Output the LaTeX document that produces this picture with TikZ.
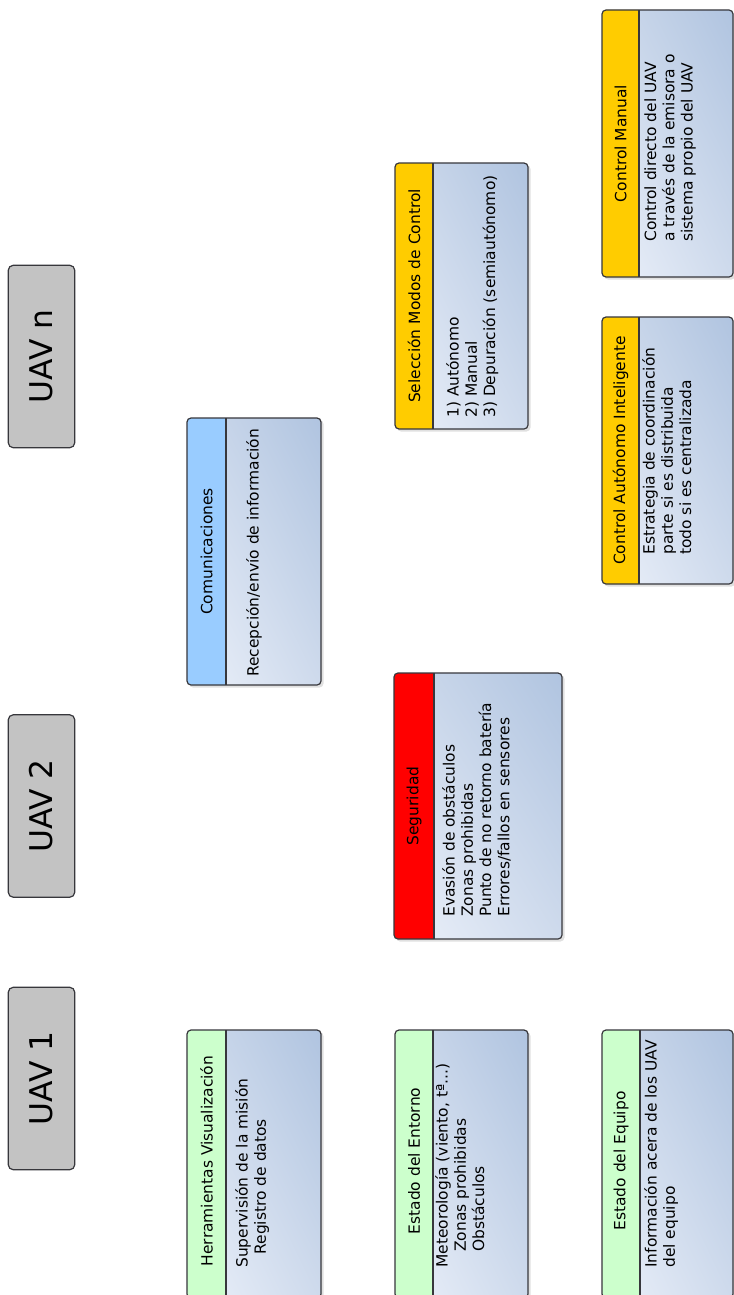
\documentclass[tikz,border=0pt]{standalone}
\usepackage{fontspec}
\setmainfont{DejaVu Sans}
\usetikzlibrary{shadings}
\definecolor{uavgray}{RGB}{195,195,195}
\definecolor{edgecol}{RGB}{55,55,60}
\definecolor{bodydark}{RGB}{176,196,224}
\definecolor{bodymid}{RGB}{206,218,236}
\definecolor{bodylight}{RGB}{236,241,250}
\definecolor{hgreen}{RGB}{204,255,204}
\definecolor{hblue}{RGB}{153,204,255}
\definecolor{hred}{RGB}{255,0,0}
\definecolor{hyellow}{RGB}{255,204,0}
\newcommand\headfont{\fontsize{11.6}{13.7}\selectfont}
\newcommand\bodyfont{\fontsize{11.6}{13.7}\selectfont}
\tikzset{
  edge/.style={draw=edgecol, line width=0.9pt},
  uavbox/.style={draw=edgecol, fill=uavgray, rounded corners=4pt, line width=0.9pt,
    rotate=90, minimum width=137pt, minimum height=50pt, inner sep=0pt,
    font=\fontsize{23.5}{28}\selectfont},
  headtext/.style={rotate=90, inner sep=0pt, font=\headfont},
  bodytext/.style={rotate=90, anchor=north west, inner sep=0pt, align=left, font=\bodyfont},
}
% #1 x1, #2 y1, #3 divider x, #4 x2, #5 y2, #6 header colour
\newcommand\mypanel[6]{%
  \fill[black, opacity=0.12, rounded corners=3pt] (#1+2,#2+2) rectangle (#4+2.5,#5+2.5);
  \shade[rounded corners=3pt, upper right=bodydark, lower left=bodylight,
         upper left=bodymid, lower right=bodymid] (#1,#2) rectangle (#4,#5);
  \begin{scope}
    \clip (#1-2,#2-2) rectangle (#3,#5+2);
    \fill[#6, rounded corners=3pt] (#1,#2) rectangle (#4,#5);
  \end{scope}
  \draw[edge, rounded corners=3pt] (#1,#2) rectangle (#4,#5);
  \draw[edge] (#3,#2) -- (#3,#5);
}
\begin{document}
\begin{tikzpicture}[x=0.75pt,y=-0.75pt]
\useasboundingbox (0,0) rectangle (733,1295);
\fill[white] (0,0) rectangle (733,1295);

% UAV boxes
\node[uavbox] (uav1) at (41.5,1078.5) {UAV 1};
\node[uavbox] (uav2) at (41.5,806) {UAV 2};
\node[uavbox] (uavn) at (41.5,356.5) {UAV n};

% Herramientas Visualizacion
\mypanel{187}{1030}{226}{321}{1298}{hgreen}
\node[headtext] (herrH) at (206.5,1161) {Herramientas Visualización};
\node[bodytext] (herrB) at (235,1268) {Supervisión de la misión\\\hspace*{10pt}Registro de datos};

% Estado del Entorno
\mypanel{395}{1030}{433}{528}{1298}{hgreen}
\node[headtext] (entH) at (414,1161) {Estado del Entorno};
\node[bodytext] (entB) at (435,1268) {Meteorología (viento, tª...)\\\hspace*{12pt}Zonas prohibidas\\\hspace*{12pt}Obstáculos};

% Estado del Equipo
\mypanel{602}{1030}{640}{733}{1298}{hgreen}
\node[headtext] (equH) at (621,1161) {Estado del Equipo};
\node[bodytext] (equB) at (644,1268) {Información acera de los UAV\\del equipo};

% Comunicaciones
\mypanel{187}{418}{226}{321}{685}{hblue}
\node[headtext] (comH) at (206.5,551.5) {Comunicaciones};
\node[bodytext] (comB) at (246,677) {Recepción/envío de información};

% Seguridad
\mypanel{394}{673}{434}{562}{939}{hred}
\node[headtext] (segH) at (414,806) {Seguridad};
\node[bodytext] (segB) at (442,917) {Evasión de obstáculos\\Zonas prohibidas\\Punto de no retorno batería\\Errores/fallos en sensores};

% Seleccion Modos de Control
\mypanel{395}{163}{433}{528}{429}{hyellow}
\node[headtext] (selH) at (414,296) {Selección Modos de Control};
\node[bodytext] (selB) at (446,418) {1) Autónomo\\2) Manual\\3) Depuración (semiautónomo)};

% Control Autonomo Inteligente
\mypanel{602}{317}{639}{733}{584}{hyellow}
\node[headtext] (autH) at (620.5,450.5) {Control Autónomo Inteligente};
\node[bodytext] (autB) at (642,555) {Estrategia de coordinación\\parte si es distribuida\\todo si es centralizada};

% Control Manual
\mypanel{602}{10}{639}{733}{277}{hyellow}
\node[headtext] (manH) at (620.5,143.5) {Control Manual};
\node[bodytext] (manB) at (644,242) {Control directo del UAV\\a través de la emisora o\\sistema propio del UAV};
\end{tikzpicture}
\end{document}
